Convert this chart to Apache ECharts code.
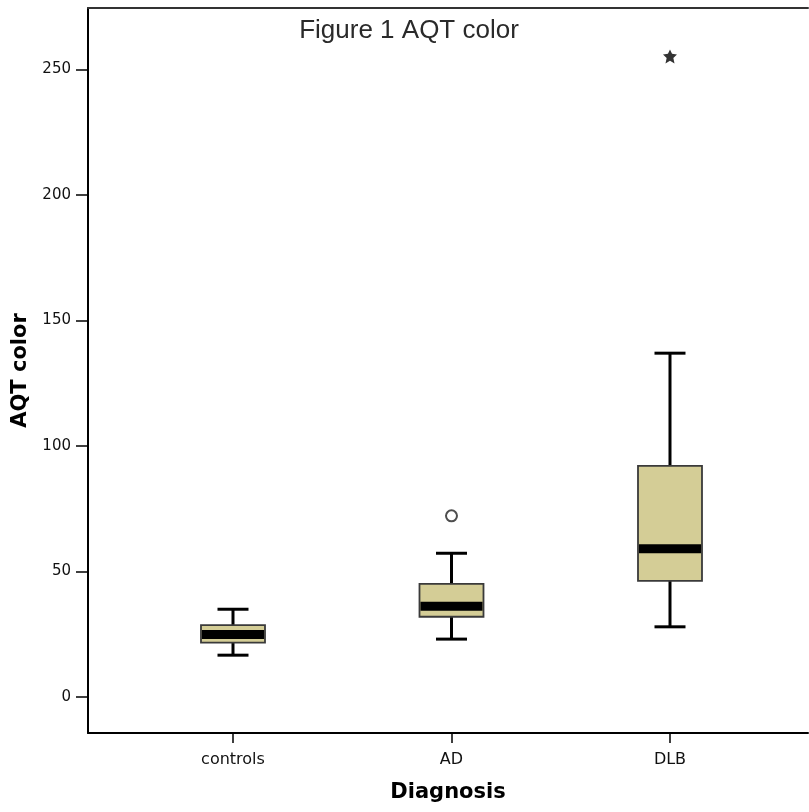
<!DOCTYPE html>
<html>
<head>
<meta charset="UTF-8">
<title>Figure 1 AQT color</title>
<script src="https://cdn.jsdelivr.net/npm/echarts@6/dist/echarts.min.js"></script>
<style>
  html, body { margin: 0; padding: 0; background: #fff; }
  #main { width: 809px; height: 812px; }
</style>
</head>
<body>
<div id="main"></div>
<script>
// categories and box statistics
var categories = ['controls', 'AD', 'DLB'];
var whiskerLow  = [16.7, 23.1, 28.0];
var q1          = [21.7, 32.0, 46.3];
var median      = [24.9, 36.2, 59.1];
var q3          = [28.7, 45.1, 92.1];
var whiskerHigh = [35.0, 57.3, 137.0];

// outliers: category index, value
var outlierCircle = [[1, 72.2]];
var outlierStar   = [[2, 255.2]];

var yTicks = [0, 50, 100, 150, 200, 250];
var xTicks = [0, 1, 2];

var boxData = categories.map(function (c, i) {
  return [i, whiskerLow[i], q1[i], median[i], q3[i], whiskerHigh[i]];
});

var starPath = 'path://M50,0 L64,30 L98,35 L73,58 L81,96 L50,78 L19,96 L27,58 L2,35 L36,30 Z';

function renderBox(params, api) {
  var x = api.value(0);
  var pLow = api.coord([x, api.value(1)]);
  var pQ1 = api.coord([x, api.value(2)]);
  var pMed = api.coord([x, api.value(3)]);
  var pQ3 = api.coord([x, api.value(4)]);
  var pHigh = api.coord([x, api.value(5)]);
  var cx = pLow[0];
  var halfBox = 32, halfCap = 15.5, medH = 9;
  var line = { stroke: '#000', lineWidth: 3 };
  return {
    type: 'group',
    children: [
      { type: 'line', shape: { x1: cx, y1: pHigh[1], x2: cx, y2: pQ3[1] }, style: line },
      { type: 'line', shape: { x1: cx, y1: pLow[1], x2: cx, y2: pQ1[1] }, style: line },
      { type: 'line', shape: { x1: cx - halfCap, y1: pHigh[1], x2: cx + halfCap, y2: pHigh[1] }, style: line },
      { type: 'line', shape: { x1: cx - halfCap, y1: pLow[1], x2: cx + halfCap, y2: pLow[1] }, style: line },
      { type: 'rect', shape: { x: cx - halfBox, y: pQ3[1], width: halfBox * 2, height: pQ1[1] - pQ3[1] },
        style: { fill: '#d4cd96', stroke: '#3a3a3a', lineWidth: 1.8 } },
      { type: 'rect', shape: { x: cx - halfBox + 1, y: pMed[1] - medH / 2, width: halfBox * 2 - 2, height: medH },
        style: { fill: '#000' } }
    ]
  };
}

var xMin = -0.6636, xMax = 2.6316;

var chart = echarts.init(document.getElementById('main'));
chart.setOption({
  backgroundColor: '#fff',
  animation: false,
  title: {
    text: 'Figure 1 AQT color',
    left: 404, top: 13, textAlign: 'center',
    textStyle: { fontFamily: 'Liberation Sans', fontSize: 26, fontWeight: 'normal', color: '#2a2a2a' }
  },
  grid: { left: 88, top: 8, right: 1, bottom: 79 },
  xAxis: [{
    type: 'value',
    min: xMin, max: xMax,
    splitLine: { show: false },
    axisLine: { show: true, onZero: false, lineStyle: { color: '#000', width: 2 } },
    axisTick: { show: true, customValues: xTicks, length: 10, lineStyle: { color: '#000', width: 1.5 } },
    axisLabel: {
      customValues: xTicks,
      formatter: function (v) { return categories[Math.round(v)]; },
      margin: 19, color: '#111', fontFamily: 'DejaVu Sans', fontSize: 16
    },
    name: 'Diagnosis', nameLocation: 'middle', nameGap: 49,
    nameTextStyle: { fontFamily: 'DejaVu Sans', fontSize: 21, fontWeight: 'bold', color: '#000' }
  }, {
    type: 'value',
    position: 'top',
    min: xMin, max: xMax,
    splitLine: { show: false },
    axisLine: { show: true, onZero: false, lineStyle: { color: '#333', width: 2 } },
    axisTick: { show: false },
    axisLabel: { show: false }
  }],
  yAxis: {
    type: 'value',
    min: -14.3, max: 274.5,
    splitLine: { show: false },
    axisLine: { show: true, onZero: false, lineStyle: { color: '#000', width: 2 } },
    axisTick: { show: true, customValues: yTicks, length: 12, lineStyle: { color: '#000', width: 1.5 } },
    axisLabel: {
      customValues: yTicks,
      margin: 17, color: '#111', fontFamily: 'DejaVu Sans', fontSize: 15
    },
    name: 'AQT color', nameLocation: 'middle', nameGap: 49,
    nameTextStyle: { fontFamily: 'DejaVu Sans', fontSize: 21, fontWeight: 'bold', color: '#000' }
  },
  series: [
    {
      type: 'custom',
      renderItem: renderBox,
      data: boxData,
      encode: { x: 0, y: [1, 2, 3, 4, 5] },
      z: 2
    },
    {
      type: 'scatter',
      data: outlierCircle,
      symbol: 'circle', symbolSize: 11,
      itemStyle: { color: '#fff', borderColor: '#222', borderWidth: 2 },
      z: 3
    },
    {
      type: 'scatter',
      data: outlierStar,
      symbol: starPath, symbolSize: 14,
      itemStyle: { color: '#000' },
      z: 3
    }
  ]
});
</script>
</body>
</html>
